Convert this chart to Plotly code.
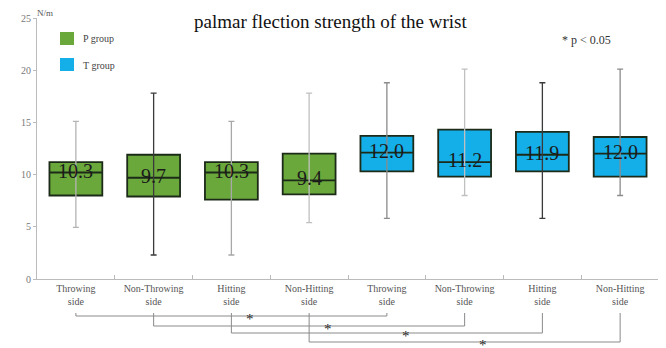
import plotly.graph_objects as go

# box values (N/m)
labels = ["Throwing<br>side", "Non-Throwing<br>side", "Hitting<br>side", "Non-Hitting<br>side",
          "Throwing<br>side", "Non-Throwing<br>side", "Hitting<br>side", "Non-Hitting<br>side"]
groups = ["P group"] * 4 + ["T group"] * 4
q1 = [8.0, 7.9, 7.6, 8.1, 10.3, 9.8, 10.3, 9.8]
median = [10.2, 9.7, 10.2, 9.45, 12.1, 11.2, 11.9, 12.0]
q3 = [11.2, 11.9, 11.2, 12.0, 13.7, 14.3, 14.1, 13.6]
lower = [4.95, 2.3, 2.3, 5.4, 5.8, 8.0, 5.8, 8.0]
upper = [15.1, 17.8, 15.1, 17.8, 18.8, 20.1, 18.8, 20.1]
median_text = ["10.3", "9.7", "10.3", "9.4", "12.0", "11.2", "11.9", "12.0"]
# significant pairs (* p < 0.05)
pairs = [(0, 4), (1, 5), (2, 6), (3, 7)]

SERIF = "Liberation Serif"
fill = {"P group": "#6aa83c", "T group": "#14aee8"}
whisker_col = ["#b4b4b4", "#3a3a3a", "#a8a8a8", "#c0c0c0",
               "#8c8c8c", "#c0c0c0", "#3a3a3a", "#8c8c8c"]

W, H = 666, 348
OFF = 8  # page body margin, screen px = figure px + OFF
# target plot area in screen pixels
LEFT, RIGHT, TOP, AXIS_PX = 37, 659, 18, 279
L, R, T = LEFT - OFF, W - (RIGHT - OFF), TOP - OFF
plot_w = W - L - R
plot_h = H - T
split = (H - (AXIS_PX - OFF)) / plot_h


def px(x):
    """screen x pixel -> paper x"""
    return (x - LEFT) / plot_w


def py(y):
    """screen y pixel -> paper y"""
    return (H - (y - OFF)) / plot_h


fig = go.Figure()
xs = list(range(len(labels)))

# whiskers with caps, drawn under the boxes
for i in xs:
    fig.add_trace(go.Scatter(
        x=[i], y=[median[i]], mode="markers", marker=dict(size=0.1, color="rgba(0,0,0,0)"),
        error_y=dict(type="data", symmetric=False,
                     array=[upper[i] - median[i]], arrayminus=[median[i] - lower[i]],
                     color=whisker_col[i], thickness=1.3, width=3),
        showlegend=False, hoverinfo="skip"))

for g in ["P group", "T group"]:
    idx = [i for i in xs if groups[i] == g]
    fig.add_trace(go.Box(
        x=idx, q1=[q1[i] for i in idx], median=[median[i] for i in idx],
        q3=[q3[i] for i in idx], lowerfence=[q1[i] for i in idx],
        upperfence=[q3[i] for i in idx], width=0.68, whiskerwidth=0,
        fillcolor=fill[g], line=dict(color="#1c2a18", width=1.8),
        name=g, showlegend=False, hoverinfo="skip"))

for i in xs:
    fig.add_annotation(x=i, y=median[i], text=median_text[i], showarrow=False,
                       yshift=2, yanchor="middle",
                       font=dict(family=SERIF, size=20, color="#1a1a1a"))

# significance brackets below the axis (y2 = pixels below the axis line)
levels = [37, 47, 54, 63]
for k, (a, b) in enumerate(pairs):
    lv = levels[k]
    fig.add_trace(go.Scatter(
        x=[a, a, b, b], y=[34, lv, lv, 34], mode="lines",
        line=dict(color="#8a8a8a", width=1), xaxis="x2", yaxis="y2",
        showlegend=False, hoverinfo="skip"))
    fig.add_annotation(x=(a + b) / 2 + 0.24, y=lv, xref="x2", yref="y2", text="*",
                       showarrow=False, yshift=-3, yanchor="middle",
                       font=dict(family=SERIF, size=15, color="#2a2a2a"))

# legend drawn by hand, like the original
for j, g in enumerate(["P group", "T group"]):
    top = 32 + 26 * j
    fig.add_shape(type="rect", xref="paper", yref="paper",
                  x0=px(60), x1=px(74), y0=py(top + 13), y1=py(top),
                  fillcolor=fill[g], line=dict(width=0))
    fig.add_annotation(xref="paper", yref="paper", x=px(81), y=py(top + 7), text=g,
                       showarrow=False, xanchor="left", yanchor="middle",
                       font=dict(family=SERIF, size=10, color="#444"))

fig.add_annotation(xref="paper", yref="paper", x=px(331), y=py(21),
                   text="palmar flection strength of the wrist", showarrow=False,
                   xanchor="center", yanchor="middle",
                   font=dict(family=SERIF, size=19, color="#111"))
fig.add_annotation(xref="paper", yref="paper", x=px(560), y=py(40),
                   text="* p &lt; 0.05", showarrow=False, xanchor="left", yanchor="middle",
                   font=dict(family=SERIF, size=12, color="#333"))
fig.add_annotation(xref="paper", yref="paper", x=px(35), y=py(13),
                   text="N/m", showarrow=False, xanchor="left", yanchor="middle",
                   font=dict(family=SERIF, size=9, color="#555"))

fig.update_layout(
    width=W, height=H, margin=dict(l=L, r=R, t=T, b=0),
    plot_bgcolor="white", paper_bgcolor="white", boxmode="overlay",
    xaxis=dict(range=[-0.5, 7.5], tickmode="array", tickvals=xs, ticktext=labels,
               ticks="", showgrid=False, zeroline=False, showline=True,
               linecolor="#bbbbbb", linewidth=1, anchor="y", automargin=False,
               tickfont=dict(family=SERIF, size=10, color="#555"),
               minor=dict(tickmode="array", tickvals=[x + 0.5 for x in xs[:-1]],
                          ticks="inside", ticklen=4, tickcolor="#bbbbbb")),
    yaxis=dict(range=[0, 25], domain=[split, 1], tickvals=[0, 5, 10, 15, 20, 25],
               ticks="outside", ticklen=3, tickcolor="#bbbbbb", showgrid=False,
               zeroline=False, showline=True, linecolor="#bbbbbb", linewidth=1,
               automargin=False, tickfont=dict(family=SERIF, size=10, color="#777")),
    xaxis2=dict(range=[-0.5, 7.5], overlaying="x", anchor="y2", visible=False),
    yaxis2=dict(range=[H + OFF - AXIS_PX, 0], domain=[0, split], visible=False),
)

fig.write_html("out.html")
